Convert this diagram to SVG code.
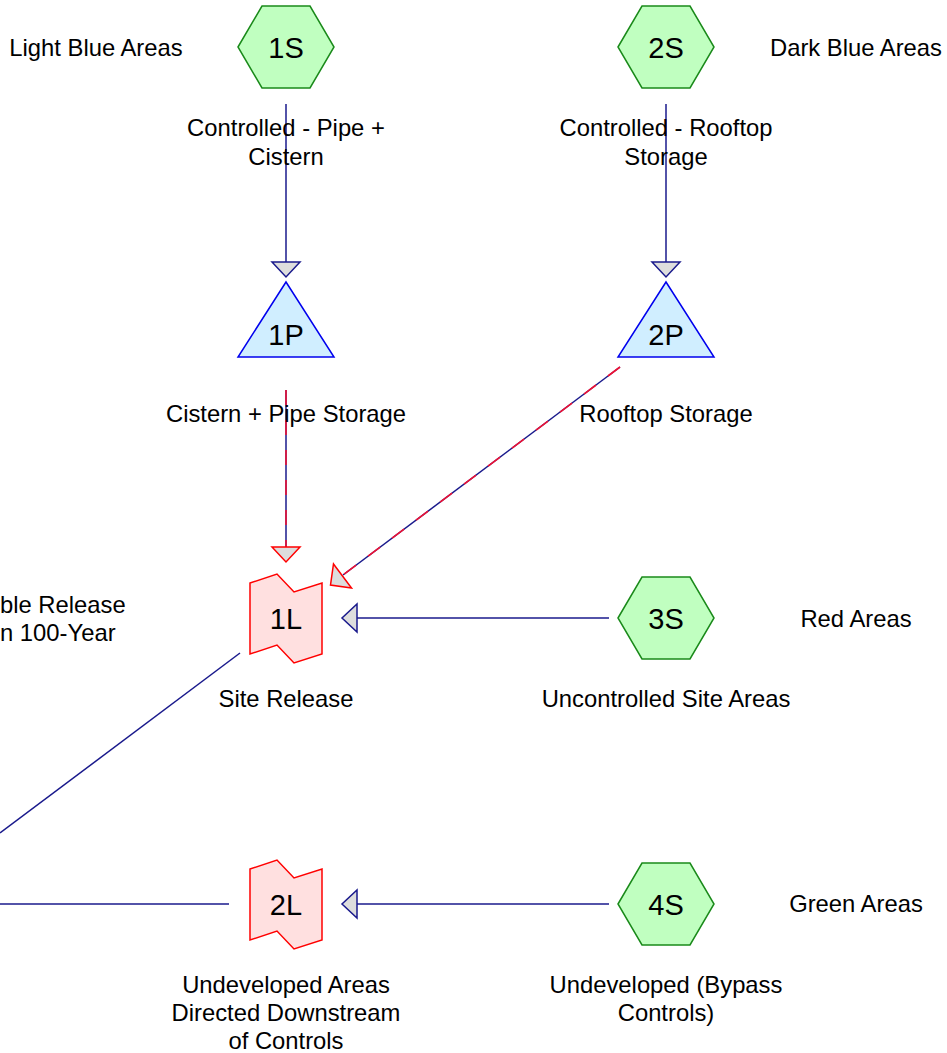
<svg xmlns="http://www.w3.org/2000/svg" width="947" height="1053" viewBox="0 0 947 1053">
<style>
text{font-family:"Liberation Sans",Arial,sans-serif;fill:#000}
.t{font-size:23.8px;text-anchor:middle}
.lbl{font-size:29px;text-anchor:middle}
.hex{fill:#c0ffc0;stroke:#1a8a1a;stroke-width:1.5}
.pond{fill:#d0eeff;stroke:#0000ee;stroke-width:1.5}
.link{fill:#ffe0e0;stroke:#ff0000;stroke-width:1.5}
.ln{stroke:#1a1a8c;stroke-width:1.5;fill:none}
.rd{stroke:#ee1133;stroke-width:1.6;fill:none;stroke-dasharray:15 15}
.ah{fill:#dddddd;stroke:#1a1a8c;stroke-width:1.5}
.ahr{fill:#dddddd;stroke:#ff0000;stroke-width:1.5}
.s{font-size:23.8px;text-anchor:start}
</style>
<defs>
<polygon id="hexs" points="-48,0 -24,-41 24,-41 48,0 24,41 -24,41"/>
<polygon id="tri" points="0,-75 48,0 -48,0"/>
<polygon id="flag" points="-36,-35 -9,-44 8,-26 36,-35 36,36 8,45 -9,27 -36,36"/>
</defs>
<g id="connectors">
<line class="ln" x1="286" y1="104" x2="286" y2="262"/>
<polygon class="ah" points="272,262 300,262 286,277"/>
<line class="ln" x1="666" y1="104" x2="666" y2="262"/>
<polygon class="ah" points="652,262 680,262 666,277"/>
<line class="ln" x1="286" y1="390" x2="286" y2="547"/>
<line class="rd" x1="286" y1="390" x2="286" y2="547"/>
<polygon class="ahr" points="272,547 300,547 286,562"/>
<line class="ln" x1="620" y1="367" x2="343" y2="575"/>
<line class="rd" x1="620" y1="367" x2="343" y2="575"/>
<polygon class="ahr" points="333.5,564 351.5,588 330.5,585"/>
<line class="ln" x1="609" y1="618" x2="357" y2="618"/>
<polygon class="ah" points="357,604 357,632 342,618"/>
<line class="ln" x1="609" y1="904" x2="357" y2="904"/>
<polygon class="ah" points="357,890 357,918 342,904"/>
<line class="ln" x1="240" y1="653" x2="0" y2="833"/>
<line class="ln" x1="0" y1="904" x2="229" y2="904"/>
</g>
<g id="n1S"><use href="#hexs" class="hex" x="286" y="47"/><text class="lbl" x="286" y="57.5">1S</text>
<text class="t" x="286" y="136">Controlled - Pipe +</text><text class="t" x="286" y="165">Cistern</text></g>
<g id="n1S-note"><text class="t" x="96" y="55.5">Light Blue Areas</text></g>
<g id="n2S"><use href="#hexs" class="hex" x="666" y="47"/><text class="lbl" x="666" y="57.5">2S</text>
<text class="t" x="666" y="136">Controlled - Rooftop</text><text class="t" x="666" y="165">Storage</text></g>
<g id="n2S-note"><text class="t" x="856" y="55.5">Dark Blue Areas</text></g>
<g id="n1P"><use href="#tri" class="pond" x="286" y="357"/><text class="lbl" x="286" y="344.5">1P</text>
<text class="t" x="286" y="421.5">Cistern + Pipe Storage</text></g>
<g id="n2P"><use href="#tri" class="pond" x="666" y="357"/><text class="lbl" x="666" y="344.5">2P</text>
<text class="t" x="666" y="421.5">Rooftop Storage</text></g>
<g id="n1L"><use href="#flag" class="link" x="286" y="618"/><text class="lbl" x="286" y="628.5">1L</text>
<text class="t" x="286" y="706.5">Site Release</text></g>
<g id="n3S"><use href="#hexs" class="hex" x="666" y="618"/><text class="lbl" x="666" y="628.5">3S</text>
<text class="t" x="666" y="706.5">Uncontrolled Site Areas</text></g>
<g id="n3S-note"><text class="t" x="856" y="626.5">Red Areas</text></g>
<g id="n2L"><use href="#flag" class="link" x="286" y="904"/><text class="lbl" x="286" y="914.5">2L</text>
<text class="t" x="286" y="992.5">Undeveloped Areas</text><text class="t" x="286" y="1021">Directed Downstream</text><text class="t" x="286" y="1049">of Controls</text></g>
<g id="n4S"><use href="#hexs" class="hex" x="666" y="904"/><text class="lbl" x="666" y="914.5">4S</text>
<text class="t" x="666" y="992.5">Undeveloped (Bypass</text><text class="t" x="666" y="1021">Controls)</text></g>
<g id="n4S-note"><text class="t" x="856" y="911.5">Green Areas</text></g>
<g id="offscreen-label"><text class="s" x="0" y="612.5">ble Release</text><text class="s" x="0" y="640.5">n 100-Year</text></g>
</svg>
